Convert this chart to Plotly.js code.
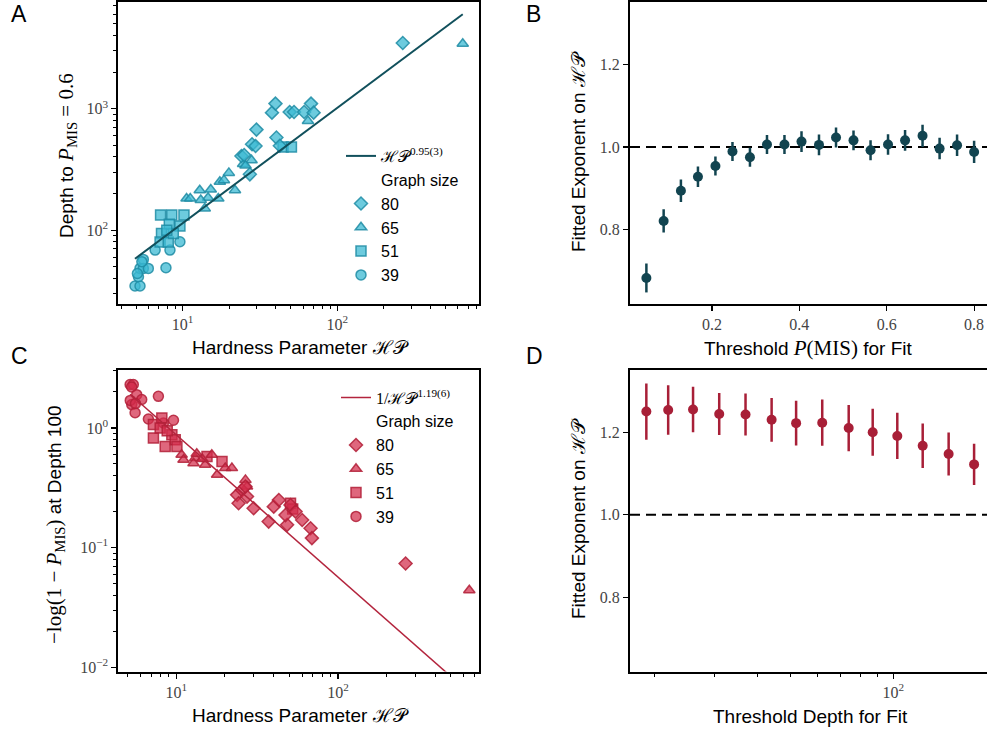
<!DOCTYPE html>
<html><head><meta charset="utf-8">
<script src="https://cdn.plot.ly/plotly-3.0.1.min.js"></script>
<style>html,body{margin:0;padding:0;overflow:hidden;background:#fff;width:987px;height:734px}</style>
</head><body><div id="chart" style="width:1000px;height:734px"></div>
<script>
// ---------- Panel A: depth to P_MIS = 0.6 vs hardness parameter ----------
const hpA80 = [265, 37.8, 39.8, 49.2, 52.5, 61, 67.6, 70.3, 30, 40.4, 28.1, 29.6, 24, 27.2, 25, 42.5];
const depthA80 = [3470, 927, 1100, 938, 938, 938, 1100, 927, 672, 578, 509, 493, 408, 288, 415, 495];
const hpA65 = [647, 64.6, 10.6, 11.2, 12.9, 13.9, 14.6, 15.2, 17.0, 17.4, 18.5, 19.9, 21.8, 24.6, 27.9, 13.1, 25.5];
const depthA65 = [3420, 791, 182, 182, 213, 151, 185, 216, 182, 250, 258, 296, 213, 350, 376, 177, 340];
const hpA51 = [7.2, 8.5, 10.2, 8.2, 9.6, 7.3, 7.15, 8.07, 8.7, 44.6, 50.5, 7.9];
const depthA51 = [133, 133, 133, 112, 108, 94, 80, 80, 94, 483, 483, 100];
const hpA39 = [4.92, 5.3, 5.18, 5.3, 5.57, 5.57, 6.0, 6.64, 8.28, 9.6, 7.8, 5.1, 5.45];
const depthA39 = [34.7, 34.7, 41.3, 48.4, 57.4, 48.4, 48.4, 68.5, 68.5, 80.2, 49, 44, 55];
const fitAExponent = 0.95, fitAPrefactor = 12.8;

// ---------- Panel B: fitted exponent vs threshold P(MIS) ----------
const thresholdP = [0.05, 0.0895, 0.129, 0.168, 0.208, 0.247, 0.287, 0.326, 0.366, 0.405, 0.445, 0.484, 0.524, 0.563, 0.603, 0.642, 0.682, 0.721, 0.761, 0.80];
const exponentB = [0.683, 0.821, 0.894, 0.928, 0.954, 0.989, 0.975, 1.006, 1.006, 1.013, 1.005, 1.023, 1.016, 0.992, 1.006, 1.016, 1.027, 0.996, 1.004, 0.988];
const errB = [0.035, 0.028, 0.027, 0.025, 0.023, 0.023, 0.023, 0.023, 0.023, 0.025, 0.025, 0.024, 0.024, 0.024, 0.025, 0.025, 0.027, 0.026, 0.026, 0.027];

// ---------- Panel C: -log(1-P_MIS) at depth 100 vs hardness parameter ----------
const hpC80 = [262, 23.8, 25.5, 24.3, 27.4, 30.1, 26.8, 40.1, 43.1, 50.9, 37.3, 48.5, 60.1, 67.7, 47.4, 54.7, 69];
const valC80 = [0.0737, 0.276, 0.303, 0.235, 0.267, 0.213, 0.324, 0.220, 0.250, 0.227, 0.165, 0.155, 0.170, 0.145, 0.187, 0.200, 0.12];
const hpC65 = [649, 10.8, 11.1, 13.1, 13.4, 12.8, 15.1, 16.6, 17.9, 20.1, 22.1, 26.8, 27.4, 14.5];
const valC65 = [0.044, 0.597, 0.542, 0.560, 0.608, 0.508, 0.492, 0.597, 0.406, 0.462, 0.462, 0.368, 0.324, 0.55];
const hpC51 = [7.23, 8.15, 9.40, 7.23, 8.55, 9.86, 7.96, 10.1, 15.5, 19.2, 50.9, 52.5, 8.8];
const valC51 = [1.07, 1.21, 0.879, 0.824, 0.701, 0.798, 1.0, 0.70, 0.578, 0.525, 0.235, 0.21, 0.95];
const hpC39 = [5.19, 5.43, 5.3, 5.70, 5.31, 5.2, 6.12, 5.57, 7.76, 6.73, 9.62, 8.34, 5.6];
const valC39 = [2.31, 2.31, 2.2, 1.90, 1.57, 1.7, 1.73, 1.34, 1.84, 1.19, 1.16, 1.10, 1.6];
const fitCExponent = -1.19, fitCPrefactor = 13.6;

// ---------- Panel D: fitted exponent vs threshold depth ----------
const thresholdDepth = [18.9, 21.9, 25.9, 30.9, 36.9, 44.0, 51.9, 61.9, 74.0, 87.0, 102.7, 121.9, 145.2, 172.4];
const exponentD = [1.250, 1.254, 1.255, 1.244, 1.243, 1.230, 1.222, 1.223, 1.210, 1.200, 1.191, 1.167, 1.147, 1.122];
const errD = [0.068, 0.060, 0.055, 0.051, 0.051, 0.053, 0.054, 0.056, 0.056, 0.057, 0.056, 0.054, 0.052, 0.050];

// ---------- labels ----------
const graphSizes = ['80', '65', '51', '39'];
const sizeSymbols = ['diamond', 'triangle-up', 'square', 'circle'];
const logTickVals = [0.01, 0.1, 1, 10, 100, 1000];
const logTickText = ['10<sup>−2</sup>', '10<sup>−1</sup>', '10<sup>0</sup>', '10<sup>1</sup>', '10<sup>2</sup>', '10<sup>3</sup>'];
const linTickValsB = [0.2, 0.4, 0.6, 0.8];
const linTickTextB = ['0.2', '0.4', '0.6', '0.8'];
const expTickVals = [0.8, 1.0, 1.2];
const expTickText = ['0.8', '1.0', '1.2'];

const SERIF = 'Liberation Serif, DejaVu Serif, serif';
const SANS = 'Liberation Sans, Arial, sans-serif';
const HP = '<span style="font-family:DejaVu Serif">ℋ𝒫</span>';
const mathSpan = s => '<span style="font-family:Liberation Serif;font-size:21px">' + s + '</span>';

const cyanFill = 'rgba(60,185,211,0.75)', cyanEdge = 'rgba(30,140,165,0.85)';
const redFill = 'rgba(210,45,75,0.72)', redEdge = 'rgba(178,30,55,0.85)';

function minorLog(decades) {
  const out = [];
  decades.forEach(d => { for (let k = 2; k <= 9; k++) out.push(k * d); });
  return out;
}

const traces = [];
function addGroup(xs, ys, i, xa, ya, fill, edge, leg) {
  traces.push({
    type: 'scatter', mode: 'markers', x: xs, y: ys, xaxis: xa, yaxis: ya,
    name: graphSizes[i], legend: leg, legendrank: 3 + i,
    marker: {symbol: sizeSymbols[i], size: 10, color: fill, line: {color: edge, width: 1.5}},
    hoverinfo: 'x+y'
  });
}
const groupsA = [[hpA80, depthA80], [hpA65, depthA65], [hpA51, depthA51], [hpA39, depthA39]];
const groupsC = [[hpC80, valC80], [hpC65, valC65], [hpC51, valC51], [hpC39, valC39]];
[3, 2, 1, 0].forEach(i => addGroup(groupsA[i][0], groupsA[i][1], i, 'x', 'y', cyanFill, cyanEdge, 'legend'));
[3, 2, 1, 0].forEach(i => addGroup(groupsC[i][0], groupsC[i][1], i, 'x3', 'y3', redFill, redEdge, 'legend2'));

// legend header entries
traces.push({type: 'scatter', mode: 'markers', x: [null], y: [null], xaxis: 'x', yaxis: 'y', name: 'Graph size',
  legend: 'legend', legendrank: 2, marker: {color: 'rgba(0,0,0,0)', size: 1, line: {width: 0}}});
traces.push({type: 'scatter', mode: 'markers', x: [null], y: [null], xaxis: 'x3', yaxis: 'y3', name: 'Graph size',
  legend: 'legend2', legendrank: 2, marker: {color: 'rgba(0,0,0,0)', size: 1, line: {width: 0}}});

// fit lines
const allHpA = hpA80.concat(hpA65, hpA51, hpA39);
const fitAx = [Math.min(...allHpA), Math.max(...allHpA)];
traces.push({type: 'scatter', mode: 'lines', x: fitAx, y: fitAx.map(v => fitAPrefactor * Math.pow(v, fitAExponent)),
  xaxis: 'x', yaxis: 'y', legend: 'legend', legendrank: 1,
  name: HP + '<span style="font-family:Liberation Serif"><sup>0.95(3)</sup></span>',
  line: {color: '#11505c', width: 2}});
const allHpC = hpC80.concat(hpC65, hpC51, hpC39);
const fitCx = [Math.min(...allHpC), Math.max(...allHpC)];
traces.push({type: 'scatter', mode: 'lines', x: fitCx, y: fitCx.map(v => fitCPrefactor * Math.pow(v, fitCExponent)),
  xaxis: 'x3', yaxis: 'y3', legend: 'legend2', legendrank: 1,
  name: '<span style="font-family:Liberation Serif">1/</span>' + HP + '<span style="font-family:Liberation Serif"><sup>1.19(6)</sup></span>',
  line: {color: '#b3243d', width: 1.5}});

// B and D error-bar series
traces.push({type: 'scatter', mode: 'markers', x: thresholdP, y: exponentB, xaxis: 'x2', yaxis: 'y2', showlegend: false,
  marker: {color: '#124450', size: 10},
  error_y: {type: 'data', array: errB, visible: true, color: '#124450', thickness: 2.5, width: 0}});
traces.push({type: 'scatter', mode: 'markers', x: thresholdDepth, y: exponentD, xaxis: 'x4', yaxis: 'y4', showlegend: false,
  marker: {color: '#a81f37', size: 10},
  error_y: {type: 'data', array: errD, visible: true, color: '#a81f37', thickness: 2.5, width: 0}});

function ax(extra) {
  return Object.assign({
    showline: true, linecolor: '#000', linewidth: 2, mirror: true,
    ticks: 'outside', ticklen: 5, tickwidth: 1.2, tickcolor: '#000',
    showgrid: false, zeroline: false, fixedrange: true,
    tickfont: {family: SERIF, size: 16, color: '#444'}
  }, extra);
}
function minor(vals) {
  return {tickmode: 'array', tickvals: vals, ticks: 'outside', ticklen: 3, tickwidth: 1, tickcolor: '#000', showgrid: false};
}

const W = 1000, H = 734;
const topRow = [1 - 304 / H, 1 - 1.5 / H];
const botRow = [1 - 671.5 / H, 1 - 369.5 / H];
const leftCol = [118.3 / W, 479.3 / W];
const rightCol = [630 / W, 990.5 / W];

const annFont = {family: SANS, size: 19, color: '#000'};
function ann(text, xp, yp, rot) {
  return {text: text, xref: 'paper', yref: 'paper', x: xp / W, y: 1 - yp / H, xanchor: 'center', yanchor: 'middle',
    showarrow: false, textangle: rot || 0, font: annFont};
}

const legendFont = {family: SANS, size: 16, color: '#000'};
const layout = {
  width: W, height: H, margin: {l: 0, r: 0, t: 0, b: 0}, paper_bgcolor: '#fff', plot_bgcolor: '#fff',
  showlegend: true,
  xaxis: ax({type: 'log', domain: leftCol, range: [0.584, 2.918], anchor: 'y', tickmode: 'array', tickvals: logTickVals, ticktext: logTickText,
    minor: minor(minorLog([1, 10, 100]))}),
  yaxis: ax({type: 'log', domain: topRow, range: [1.392, 3.882], anchor: 'x', tickmode: 'array', tickvals: logTickVals, ticktext: logTickText,
    minor: minor(minorLog([10, 100, 1000]))}),
  xaxis2: ax({domain: rightCol, range: [0.0125, 0.8375], anchor: 'y2', tickmode: 'array', tickvals: linTickValsB, ticktext: linTickTextB}),
  yaxis2: ax({domain: topRow, range: [0.62, 1.352], anchor: 'x2', tickmode: 'array', tickvals: expTickVals, ticktext: expTickText}),
  xaxis3: ax({type: 'log', domain: leftCol, range: [0.642, 2.874], anchor: 'y3', tickmode: 'array', tickvals: logTickVals, ticktext: logTickText,
    minor: minor(minorLog([1, 10, 100]))}),
  yaxis3: ax({type: 'log', domain: botRow, range: [-2.036, 0.489], anchor: 'x3', tickmode: 'array', tickvals: logTickVals, ticktext: logTickText,
    minor: minor(minorLog([0.01, 0.1, 1]))}),
  xaxis4: ax({type: 'log', domain: rightCol, range: [1.2286, 2.2846], anchor: 'y4', tickmode: 'array', tickvals: logTickVals, ticktext: logTickText,
    minor: minor(minorLog([10, 100]))}),
  yaxis4: ax({domain: botRow, range: [0.62, 1.352], anchor: 'x4', tickmode: 'array', tickvals: expTickVals, ticktext: expTickText}),
  legend: {x: 341 / W, y: 1 - 139 / H, xanchor: 'left', yanchor: 'top', bgcolor: 'rgba(0,0,0,0)', borderwidth: 0,
    font: legendFont, tracegroupgap: 0, itemclick: false},
  legend2: {x: 336 / W, y: 1 - 380.5 / H, xanchor: 'left', yanchor: 'top', bgcolor: 'rgba(0,0,0,0)', borderwidth: 0,
    font: legendFont, tracegroupgap: 0, itemclick: false},
  shapes: [
    {type: 'line', xref: 'x2 domain', yref: 'y2', x0: 0, x1: 1, y0: 1, y1: 1, line: {color: '#000', width: 2, dash: '10px,6px'}, layer: 'below'},
    {type: 'line', xref: 'x4 domain', yref: 'y4', x0: 0, x1: 1, y0: 1, y1: 1, line: {color: '#000', width: 2, dash: '10px,6px'}, layer: 'below'}
  ],
  annotations: [
    Object.assign(ann('A', 19, 14), {font: {family: SANS, size: 23, color: '#000'}}),
    Object.assign(ann('B', 533, 14), {font: {family: SANS, size: 23, color: '#000'}}),
    Object.assign(ann('C', 19, 356), {font: {family: SANS, size: 23, color: '#000'}}),
    Object.assign(ann('D', 534, 356), {font: {family: SANS, size: 23, color: '#000'}}),
    ann('Hardness Parameter ' + HP, 300, 347),
    ann('Depth to ' + mathSpan('<i>P</i><sub>MIS</sub> = 0.6'), 67, 156, -90),
    ann('Threshold ' + mathSpan('<i>P</i>(MIS)') + ' for Fit', 808, 348),
    ann('Fitted Exponent on ' + HP, 578, 152, -90),
    ann('Hardness Parameter ' + HP, 300, 715),
    ann(mathSpan('−log(1 − <i>P</i><sub>MIS</sub>)') + ' at Depth 100', 55, 525, -90),
    ann('Threshold Depth for Fit', 810, 716),
    ann('Fitted Exponent on ' + HP, 578, 519, -90)
  ]
};

Plotly.newPlot('chart', traces, layout, {displayModeBar: false, staticPlot: true});
</script></body></html>
